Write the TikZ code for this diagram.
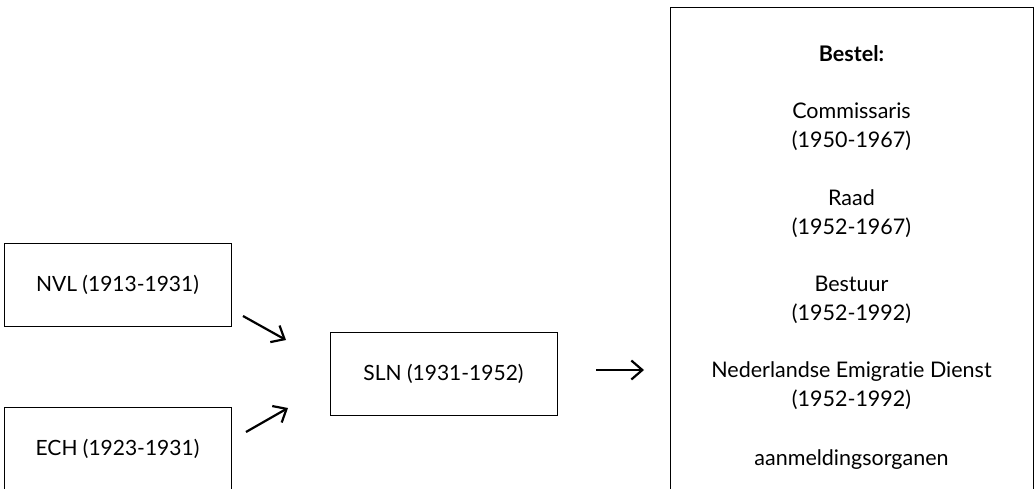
\documentclass[tikz,border=0pt]{standalone}
\usepackage{fontspec}
\setmainfont{Lato}[Ligatures=CommonOff]
\usetikzlibrary{arrows.meta}
\tikzset{
  orgbox/.style={draw, line width=.8pt, minimum width=227pt, minimum height=83pt,
    inner sep=0pt, font=\fontsize{21}{24}\selectfont},
  groep/.style={align=center, anchor=base, font=\fontsize{21.5}{29}\selectfont},
  pijl/.style={line width=2.2pt, -{Straight Barb[length=11pt,width=19pt]}}
}
\begin{document}
\begin{tikzpicture}[x=1pt,y=-1pt]
\useasboundingbox (0,0) rectangle (1035,489);
\clip (0,0) rectangle (1035,489);
% voorgangers
\node[orgbox] (nvl) at (117.5,285) {NVL (1913-1931)};
\node[orgbox] (ech) at (117.5,449) {ECH (1923-1931)};
\node[orgbox] (sln) at (443.5,373.5) {SLN (1931-1952)};
% bestel (ankers op de onderste regel)
\node[draw, line width=.8pt, minimum width=363pt, minimum height=520pt, inner sep=0pt]
  (bestel) at (851.5,267) {};
\node[groep, font=\fontsize{21.5}{29}\bfseries] (kop) at (851.5,62) {Bestel:};
\node[groep] (comm) at (851.5,148) {Commissaris\\(1950-1967)};
\node[groep] (raad) at (851.5,234) {Raad\\(1952-1967)};
\node[groep] (best) at (851.5,320) {Bestuur\\(1952-1992)};
\node[groep] (ned) at (851.5,406) {Nederlandse Emigratie Dienst\\(1952-1992)};
\node[groep] (aanm) at (851.5,465) {aanmeldingsorganen};
% pijlen
\coordinate (nvl-a) at (243,316);
\coordinate (nvl-b) at (286,340);
\coordinate (ech-a) at (246,432);
\coordinate (ech-b) at (288,408);
\coordinate (sln-a) at (596,370);
\coordinate (sln-b) at (644,370);
\draw[pijl] (nvl-a) -- (nvl-b);
\draw[pijl] (ech-a) -- (ech-b);
\draw[pijl] (sln-a) -- (sln-b);
\end{tikzpicture}
\end{document}
